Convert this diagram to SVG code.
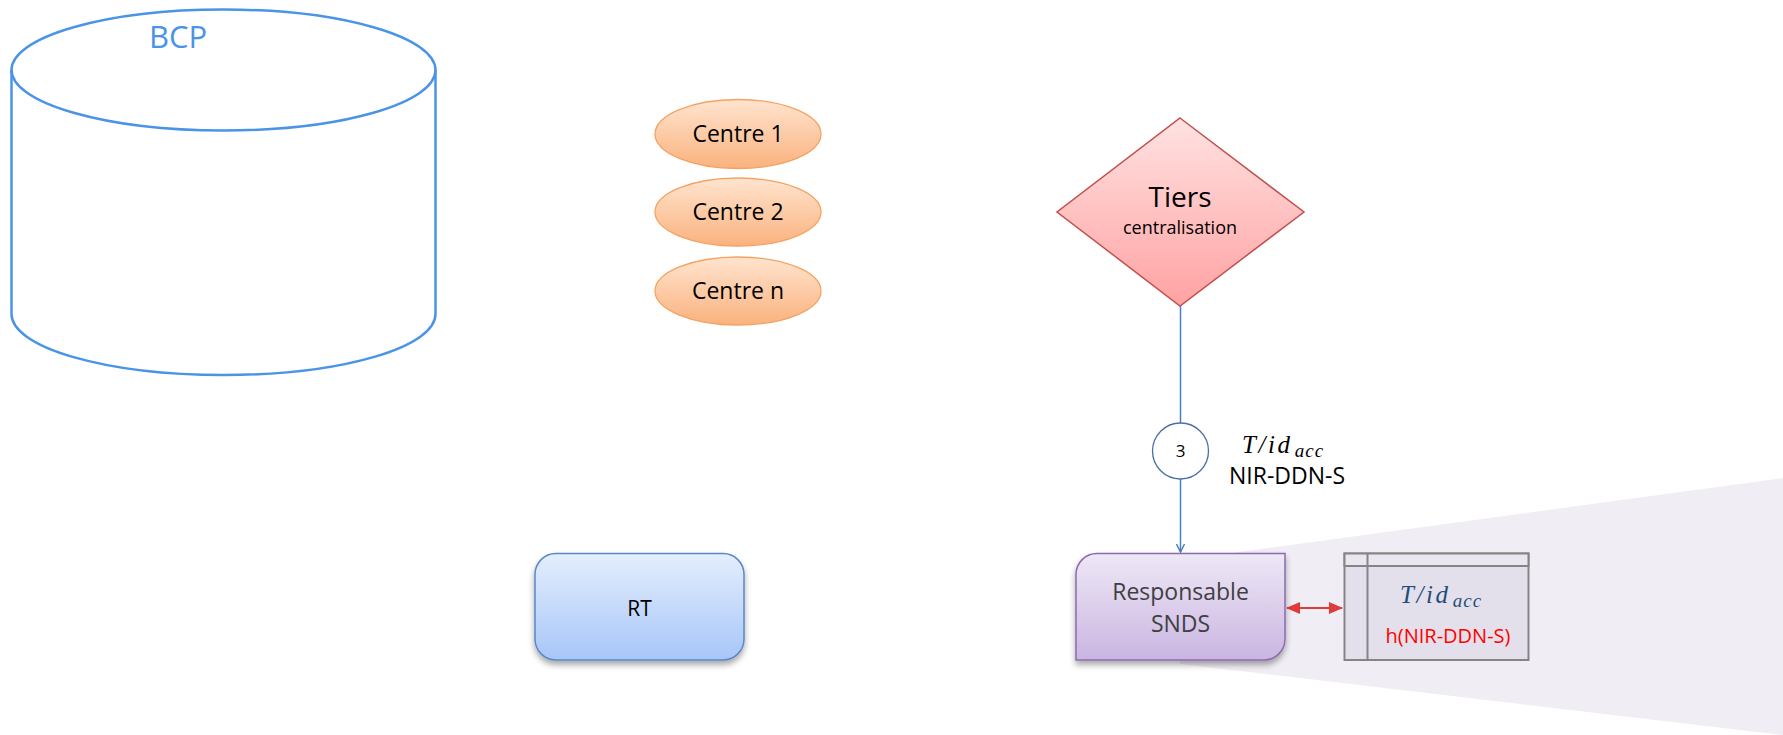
<svg xmlns="http://www.w3.org/2000/svg" width="1783" height="735" viewBox="0 0 1783 735">
  <defs>
    <linearGradient id="gCentre" x1="0" y1="0" x2="0" y2="1">
      <stop offset="0" stop-color="#FFE4CF"/>
      <stop offset="1" stop-color="#FAB27E"/>
    </linearGradient>
    <linearGradient id="gTiers" x1="0" y1="0" x2="0" y2="1">
      <stop offset="0" stop-color="#FFE2E2"/>
      <stop offset="1" stop-color="#FFA2A2"/>
    </linearGradient>
    <linearGradient id="gRT" x1="0" y1="0" x2="0" y2="1">
      <stop offset="0" stop-color="#E4EEFD"/>
      <stop offset="1" stop-color="#A7C6F8"/>
    </linearGradient>
    <linearGradient id="gSNDS" x1="0" y1="0" x2="0" y2="1">
      <stop offset="0" stop-color="#EEE8F6"/>
      <stop offset="1" stop-color="#CAB5E1"/>
    </linearGradient>
    <filter id="shadow" x="-20%" y="-20%" width="140%" height="150%">
      <feGaussianBlur in="SourceAlpha" stdDeviation="3"/>
      <feOffset dx="0" dy="4" result="b"/>
      <feComponentTransfer><feFuncA type="linear" slope="0.35"/></feComponentTransfer>
      <feMerge><feMergeNode/><feMergeNode in="SourceGraphic"/></feMerge>
    </filter>
    <marker id="arrowBlue" markerWidth="10" markerHeight="10" refX="9" refY="5" orient="auto" markerUnits="userSpaceOnUse">
      <path d="M1,1 L9,5 L1,9" fill="none" stroke="#4A7EC0" stroke-width="1.5"/>
    </marker>
    <marker id="arrowRed" markerWidth="14" markerHeight="12" refX="13" refY="6" orient="auto-start-reverse" markerUnits="userSpaceOnUse">
      <path d="M0,0 L14,6 L0,12 Z" fill="#E03A3A"/>
    </marker>
  </defs>
  <style>
    .lbl { font-family: "Open Sans", "Noto Sans", sans-serif; fill: #000; text-anchor: middle; }
    .math { font-family: "Liberation Serif", serif; font-style: italic; font-size: 25px; letter-spacing: 2.6px; }
    .sub { font-size: 19px; letter-spacing: 1px; }
    .cyl { fill: none; stroke: #4A94E8; stroke-width: 2.5; }
    .centre { fill: url(#gCentre); stroke: #F4A261; stroke-width: 1.3; }
  </style>

  <!-- light wedge behind the mapping table -->
  <polygon points="1180,560 1783,478 1783,735 1180,664" fill="#F0EEF4"/>

  <!-- BCP database -->
  <g id="bcp">
    <path class="cyl" d="M11.5,70 L11.5,314 A212,61 0 0 0 435.5,314 L435.5,70"/>
    <ellipse class="cyl" cx="223.5" cy="70" rx="212" ry="60.5"/>
    <text x="178" y="48" font-family="'Open Sans', 'Noto Sans', sans-serif" font-size="31" fill="#4A94E8" text-anchor="middle">BCP</text>
  </g>

  <!-- Centres -->
  <g id="centre1">
    <ellipse class="centre" cx="738" cy="134" rx="83" ry="34.5"/>
    <text class="lbl" x="738" y="142" font-size="23">Centre 1</text>
  </g>
  <g id="centre2">
    <ellipse class="centre" cx="738" cy="212" rx="83" ry="34"/>
    <text class="lbl" x="738" y="220" font-size="23">Centre 2</text>
  </g>
  <g id="centren">
    <ellipse class="centre" cx="738" cy="291" rx="83" ry="34"/>
    <text class="lbl" x="738" y="299" font-size="23">Centre n</text>
  </g>

  <!-- Tiers de centralisation -->
  <g id="tiers">
    <polygon points="1180,118 1304,212 1180,306 1057,212" fill="url(#gTiers)" stroke="#C0504D" stroke-width="1.5"/>
    <text class="lbl" x="1180" y="207" font-size="28">Tiers</text>
    <text class="lbl" x="1180" y="234" font-size="18">centralisation</text>
  </g>

  <!-- connectors -->
  <g id="connectors">
    <line x1="1180.5" y1="306" x2="1180.5" y2="423" stroke="#4A7EC0" stroke-width="1.5"/>
    <line x1="1180.5" y1="479" x2="1180.5" y2="552" stroke="#4A7EC0" stroke-width="1.5" marker-end="url(#arrowBlue)"/>
    <line x1="1287" y1="608" x2="1342" y2="608" stroke="#E03A3A" stroke-width="2" marker-start="url(#arrowRed)" marker-end="url(#arrowRed)"/>
  </g>

  <!-- step 3 marker with its label -->
  <g id="step3">
    <circle cx="1180.5" cy="451" r="28" fill="#FFFFFF" stroke="#4A6FA5" stroke-width="1.3"/>
    <text class="lbl" x="1180.5" y="457" font-size="17">3</text>
    <text class="math" x="1242" y="453">T/id<tspan class="sub" dx="2" dy="4">acc</tspan></text>
    <text class="lbl" x="1287" y="484" font-size="23">NIR-DDN-S</text>
  </g>

  <!-- RT -->
  <g id="rt">
    <rect x="535" y="553.5" width="209" height="106.5" rx="21" ry="21" fill="url(#gRT)" stroke="#5B86C5" stroke-width="1.5" filter="url(#shadow)"/>
    <text class="lbl" x="639.5" y="616" font-size="21">RT</text>
  </g>

  <!-- Responsable SNDS -->
  <g id="snds">
    <path d="M1097,553.5 L1285,553.5 L1285,639 A21,21 0 0 1 1264,660 L1076,660 L1076,574.5 A21,21 0 0 1 1097,553.5 Z" fill="url(#gSNDS)" stroke="#8A6BB0" stroke-width="1.5" filter="url(#shadow)"/>
    <text class="lbl" x="1180.5" y="600" font-size="23" style="fill:#404040">Responsable</text>
    <text class="lbl" x="1180.5" y="632" font-size="23" style="fill:#404040">SNDS</text>
  </g>

  <!-- mapping table -->
  <g id="table">
    <rect x="1344.5" y="553.5" width="184" height="106.5" fill="#E4E0EB" stroke="#858585" stroke-width="2"/>
    <rect x="1344.5" y="553.5" width="184" height="12.5" fill="#EAE7F0" stroke="#858585" stroke-width="2"/>
    <line x1="1367.5" y1="553.5" x2="1367.5" y2="660" stroke="#858585" stroke-width="2"/>
    <text class="math" x="1400" y="603" fill="#1F4E79">T/id<tspan class="sub" dx="2" dy="4">acc</tspan></text>
    <text class="lbl" x="1448" y="643" font-size="20" style="fill:#FF0000">h(NIR-DDN-S)</text>
  </g>
</svg>
